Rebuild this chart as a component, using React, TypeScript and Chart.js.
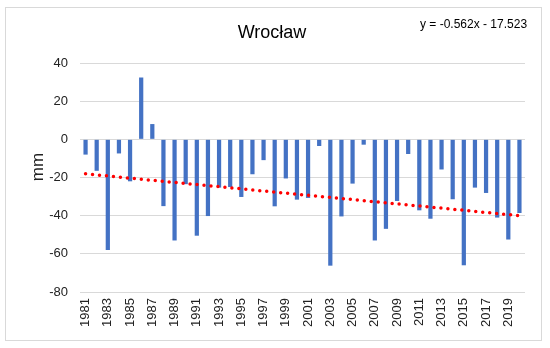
import React, { useEffect, useRef } from "react";
import { Chart, registerables } from "chart.js";

Chart.register(...registerables);

const years: string[] = [
  "1981","1982","1983","1984","1985","1986","1987","1988","1989","1990",
  "1991","1992","1993","1994","1995","1996","1997","1998","1999","2000",
  "2001","2002","2003","2004","2005","2006","2007","2008","2009","2010",
  "2011","2012","2013","2014","2015","2016","2017","2018","2019","2020",
];

const precipitationDiff: number[] = [
  -8, -16.5, -58, -7.4, -22, 32.4, 8, -35, -53, -23.5,
  -50.5, -40.2, -25.3, -25, -30.2, -18.3, -10.9, -35.1, -20.5, -31.6,
  -30.7, -3.5, -66.2, -40.4, -23.2, -2.8, -53, -46.9, -32.3, -7.7,
  -37.2, -41.6, -15.8, -31.4, -66, -25.3, -28.1, -41, -52.5, -38.6,
];

const trendSlope = -0.562;
const trendIntercept = -17.523;
const trendLabel = "y = -0.562x - 17.523";
const chartTitle = "Wrocław";
const yAxisTitle = "mm";
const yMin = -80;
const yMax = 40;
const yStep = 20;

const trendValues: number[] = years.map((_, i) => trendSlope * (i + 1) + trendIntercept);

const FONT = "'Liberation Sans', Arial, sans-serif";

const textPlugin = {
  id: "textPlugin",
  afterDraw(chart: any) {
    const ctx = chart.ctx;
    ctx.save();
    ctx.fillStyle = "#000000";
    ctx.font = `18px ${FONT}`;
    ctx.textAlign = "center";
    ctx.textBaseline = "alphabetic";
    ctx.fillText(chartTitle, 272, 38);

    ctx.font = `12px ${FONT}`;
    ctx.textAlign = "left";
    ctx.fillText(trendLabel, 420, 28);

    ctx.fillStyle = "#222222";
    ctx.font = `17px ${FONT}`;
    ctx.translate(43, 167);
    ctx.rotate(-Math.PI / 2);
    ctx.textAlign = "center";
    ctx.textBaseline = "alphabetic";
    ctx.fillText(yAxisTitle, 0, 0);
    ctx.restore();
  },
};

export default function App() {
  const canvasRef = useRef<HTMLCanvasElement | null>(null);

  useEffect(() => {
    if (!canvasRef.current) return;
    const chart = new Chart(canvasRef.current, {
      type: "bar",
      data: {
        labels: years,
        datasets: [
          {
            type: "line",
            label: "trend",
            data: trendValues,
            borderColor: "#FF0000",
            borderWidth: 3.5,
            borderDash: [0, 7],
            borderCapStyle: "round",
            pointRadius: 0,
            fill: false,
            tension: 0,
            order: 0,
          } as any,
          {
            type: "bar",
            label: "mm",
            data: precipitationDiff,
            backgroundColor: "#4472C4",
            borderWidth: 0,
            barPercentage: 1,
            categoryPercentage: 0.38,
            order: 1,
          },
        ],
      },
      options: {
        responsive: false,
        animation: false,
        devicePixelRatio: 1,
        layout: { padding: { left: 0, right: 25, top: 63, bottom: 0 } },
        plugins: {
          legend: { display: false },
          tooltip: { enabled: false },
          title: { display: false },
        },
        scales: {
          x: {
            grid: { display: false, drawTicks: false },
            border: { display: false },
            ticks: {
              autoSkip: false,
              maxRotation: 90,
              minRotation: 90,
              padding: 6,
              color: "#222222",
              font: { family: FONT, size: 13 },
              callback: (_v: any, i: number) => (i % 2 === 0 ? years[i] : ""),
            },
            afterFit: (scale: any) => {
              scale.height = 56;
            },
          },
          y: {
            min: yMin,
            max: yMax,
            grid: { color: "#d9d9d9", lineWidth: 1, drawTicks: false },
            border: { display: false },
            ticks: {
              stepSize: yStep,
              padding: 12,
              color: "#222222",
              font: { family: FONT, size: 13 },
            },
            afterFit: (scale: any) => {
              scale.width = 80;
            },
          },
        },
      },
      plugins: [textPlugin],
    });
    return () => chart.destroy();
  }, []);

  return (
    <div style={{ position: "fixed", left: 0, top: 0, width: 550, height: 348, background: "#ffffff" }}>
      <div
        style={{
          position: "absolute",
          left: 5,
          top: 7,
          width: 537,
          height: 334,
          border: "1px solid #d9d9d9",
          boxSizing: "border-box",
        }}
      />
      <canvas
        ref={canvasRef}
        width={550}
        height={348}
        style={{ position: "absolute", left: 0, top: 0, width: 550, height: 348 }}
      />
    </div>
  );
}
